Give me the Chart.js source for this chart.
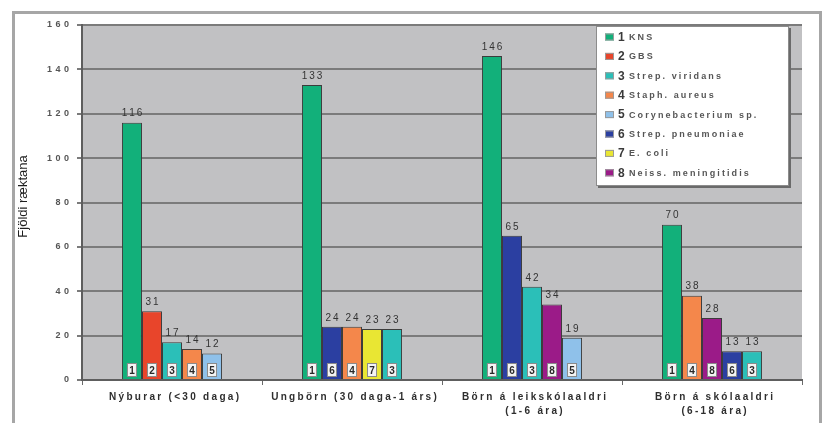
<!DOCTYPE html>
<html>
<head>
<meta charset="utf-8">
<script src="https://cdn.jsdelivr.net/npm/chart.js@4/dist/chart.umd.min.js"></script>
<style>
  html, body { margin: 0; padding: 0; background: #ffffff; }
  #wrap { width: 825px; height: 423px; position: relative; }
</style>
</head>
<body>
<div id="wrap"><canvas id="chart" width="825" height="423"></canvas></div>
<script>
// Age groups (x categories); multi-line labels are arrays of lines
const categories = [
  ['Nýburar (<30 daga)'],
  ['Ungbörn (30 daga-1 árs)'],
  ['Börn á leikskólaaldri', '(1-6 ára)'],
  ['Börn á skólaaldri', '(6-18 ára)']
];

// Organisms, numbered 1-8 in the legend
const organisms = [
  'KNS',
  'GBS',
  'Strep. viridans',
  'Staph. aureus',
  'Corynebacterium sp.',
  'Strep. pneumoniae',
  'E. coli',
  'Neiss. meningitidis'
];

// Five most common organisms per age group, largest first (counts and organism numbers)
const nyburarValues    = [116, 31, 17, 14, 12];
const nyburarCodes     = [1, 2, 3, 4, 5];
const ungbornValues    = [133, 24, 24, 23, 23];
const ungbornCodes     = [1, 6, 4, 7, 3];
const leikskoliValues  = [146, 65, 42, 34, 19];
const leikskoliCodes   = [1, 6, 3, 8, 5];
const skoliValues      = [70, 38, 28, 13, 13];
const skoliCodes       = [1, 4, 8, 6, 3];

// Value axis
const yTickValues = [0, 20, 40, 60, 80, 100, 120, 140, 160];
const yTitle = 'Fjöldi ræktana';

// Colour per organism number (1-8)
const organismColors = ['#12b07a', '#e8452b', '#2bbfb8', '#f4874b', '#8fc1ea', '#2b3fa1', '#e9e633', '#9b1b88'];

const groupValues = [nyburarValues, ungbornValues, leikskoliValues, skoliValues];
const groupCodes  = [nyburarCodes, ungbornCodes, leikskoliCodes, skoliCodes];

// One dataset per rank position inside each group
const datasets = [0, 1, 2, 3, 4].map(rank => ({
  label: 'rank ' + (rank + 1),
  data: groupValues.map(v => v[rank]),
  codes: groupCodes.map(c => c[rank]),
  backgroundColor: groupCodes.map(c => organismColors[c[rank] - 1]),
  borderColor: '#3c3c3c',
  borderWidth: 1,
  categoryPercentage: 0.556,
  barPercentage: 1.0
}));

const FONT = '"Liberation Sans", Arial, Helvetica, sans-serif';

function spacedWidth(ctx, s, sp) {
  const chars = [...s];
  let w = 0;
  for (const ch of chars) w += ctx.measureText(ch).width;
  return w + sp * (chars.length - 1);
}
function drawSpaced(ctx, s, x, y, sp, align) {
  const w = spacedWidth(ctx, s, sp);
  let cx = align === 'center' ? x - w / 2 : (align === 'right' ? x - w : x);
  ctx.textAlign = 'left';
  for (const ch of [...s]) {
    ctx.fillText(ch, cx, y);
    cx += ctx.measureText(ch).width + sp;
  }
}

const decorPlugin = {
  id: 'decor',
  beforeDraw(chart) {
    const { ctx, chartArea: a } = chart;
    ctx.save();
    ctx.fillStyle = '#ffffff';
    ctx.fillRect(0, 0, chart.width, chart.height);
    // outer frame
    ctx.strokeStyle = '#a6a6a6';
    ctx.lineWidth = 3;
    ctx.strokeRect(13.5, 12.5, 807, 430);
    // plot background
    ctx.fillStyle = '#c1c1c3';
    ctx.fillRect(a.left, a.top, a.right - a.left, a.bottom - a.top);
    ctx.restore();
  },
  afterDatasetsDraw(chart) {
    const { ctx, chartArea: a } = chart;
    ctx.save();
    chart.data.datasets.forEach((ds, di) => {
      const meta = chart.getDatasetMeta(di);
      meta.data.forEach((bar, i) => {
        // value above the bar
        ctx.fillStyle = '#333333';
        ctx.font = '10px ' + FONT;
        ctx.textBaseline = 'middle';
        drawSpaced(ctx, String(ds.data[i]), bar.x, bar.y - 9, 2.0, 'center');
        // organism number tag at the foot of the bar
        const bw = 10, bh = 14;
        const bx = bar.x - bw / 2, by = a.bottom - 3 - bh;
        ctx.fillStyle = '#f4f4f4';
        ctx.fillRect(bx, by, bw, bh);
        ctx.strokeStyle = '#8a8a8a';
        ctx.lineWidth = 1;
        ctx.strokeRect(bx + 0.5, by + 0.5, bw - 1, bh - 1);
        ctx.fillStyle = '#2a2a2a';
        ctx.font = 'bold 10px ' + FONT;
        ctx.textAlign = 'center';
        ctx.fillText(String(ds.codes[i]), bar.x, by + bh / 2 + 1);
      });
    });
    ctx.restore();
  },
  afterDraw(chart) {
    const { ctx, chartArea: a } = chart;
    const xs = chart.scales.x, ys = chart.scales.y;
    ctx.save();

    // y tick labels
    ctx.fillStyle = '#555555';
    ctx.font = 'bold 9px ' + FONT;
    ctx.textBaseline = 'middle';
    yTickValues.forEach(v => {
      drawSpaced(ctx, String(v), a.left - 13, ys.getPixelForValue(v), 3.5, 'right');
    });

    // x category labels
    ctx.fillStyle = '#2e2e2e';
    ctx.font = 'bold 10px ' + FONT;
    categories.forEach((lines, i) => {
      const cx = xs.getPixelForValue(i);
      lines.forEach((ln, j) => {
        drawSpaced(ctx, ln, cx + 2, a.bottom + 17 + j * 14, 2.3, 'center');
      });
    });

    // y axis title
    ctx.save();
    ctx.translate(23, (a.top + a.bottom) / 2 - 6);
    ctx.rotate(-Math.PI / 2);
    ctx.fillStyle = '#1e1e1e';
    ctx.font = '13px ' + FONT;
    ctx.textAlign = 'center';
    ctx.textBaseline = 'middle';
    ctx.fillText(yTitle, 0, 0);
    ctx.restore();

    // legend box
    const lx = 596, ly = a.top + 1, lw = 193, lh = 160;
    ctx.fillStyle = '#6a6a6a';
    ctx.fillRect(lx + 2, ly + 2, lw, lh);
    ctx.fillStyle = '#ffffff';
    ctx.fillRect(lx, ly, lw, lh);
    ctx.strokeStyle = '#8c8c8c';
    ctx.lineWidth = 1;
    ctx.strokeRect(lx + 0.5, ly + 0.5, lw - 1, lh - 1);
    organisms.forEach((name, i) => {
      const y = ly + 11 + i * 19.4;
      ctx.fillStyle = organismColors[i];
      ctx.fillRect(lx + 9, y - 3.5, 9, 7);
      ctx.strokeStyle = '#9a9a9a';
      ctx.strokeRect(lx + 9.5, y - 3, 8, 6);
      ctx.fillStyle = '#3a3a3a';
      ctx.font = 'bold 12px ' + FONT;
      ctx.textBaseline = 'middle';
      ctx.textAlign = 'left';
      ctx.fillText(String(i + 1), lx + 22, y + 0.5);
      ctx.fillStyle = '#555555';
      ctx.font = 'bold 9px ' + FONT;
      drawSpaced(ctx, name, lx + 33, y + 0.5, 2.1, 'left');
    });
    ctx.restore();
  }
};

new Chart(document.getElementById('chart'), {
  type: 'bar',
  data: { labels: categories.map(l => l.join(' ')), datasets },
  options: {
    responsive: false,
    animation: false,
    devicePixelRatio: 1,
    layout: { padding: { top: 25, right: 23, left: 0, bottom: 0 } },
    plugins: { legend: { display: false }, tooltip: { enabled: false } },
    scales: {
      x: {
        offset: true,
        ticks: { display: false },
        grid: { display: true, drawOnChartArea: false, drawTicks: true, tickLength: 5, color: '#6a6a6a', lineWidth: 1, offset: true },
        border: { display: true, color: '#5e5e5e', width: 2 },
        afterFit(s) { s.height = 43; }
      },
      y: {
        min: 0,
        max: 160,
        ticks: { display: false, stepSize: 20 },
        grid: { color: '#7b7b7b', lineWidth: 2, drawTicks: true, tickLength: 5 },
        border: { display: true, color: '#5e5e5e', width: 2 },
        afterFit(s) { s.width = 82; }
      }
    }
  },
  plugins: [decorPlugin]
});
</script>
</body>
</html>
